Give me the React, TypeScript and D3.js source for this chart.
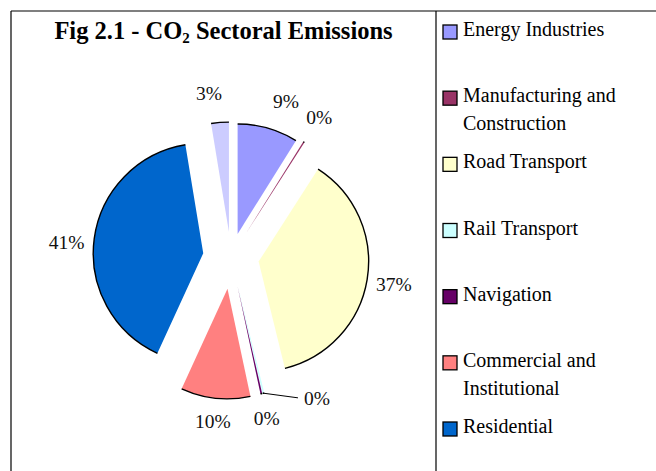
import React from "react";
import * as d3 from "d3";

const categories = [
  "Energy Industries",
  "Manufacturing and Construction",
  "Road Transport",
  "Rail Transport",
  "Navigation",
  "Commercial and Institutional",
  "Residential",
  "Other",
];
const values = [8.9, 0.2, 37.1, 0.25, 0.25, 10.2, 40.6, 2.6];
const colors = ["#9999FF", "#993366", "#FFFFCC", "#CCFFFF", "#660066", "#FF8080", "#0066CC", "#CCCCFF"];

// how far each slice is pulled out of the pie
const explode = [24, 26, 28, 30, 30, 32, 28, 25];

type Datum = { name: string; value: number; color: string; i: number };

const font = "'Liberation Serif', 'Times New Roman', serif";

export default function App() {
  const width = 656;
  const height = 471;
  const cx = 231;
  const cy = 257;
  const radius = 110;
  const labelRadius = 165;

  const data: Datum[] = categories.map((name, i) => ({ name, value: values[i], color: colors[i], i }));
  const total = d3.sum(values);
  const pct = d3.format(".0%");

  const slices = d3.pie<Datum>().sort(null).value(d => d.value)(data);
  const arcGen = d3.arc<d3.PieArcDatum<Datum>>().innerRadius(0).outerRadius(radius);

  const outline = (s: d3.PieArcDatum<Datum>) => {
    const p = d3.path();
    p.arc(0, 0, radius, s.startAngle - Math.PI / 2, s.endAngle - Math.PI / 2);
    return p.toString();
  };

  const mid = (s: d3.PieArcDatum<Datum>) => (s.startAngle + s.endAngle) / 2;

  // labels nudged round the pie (degrees); rail label has a leader line
  const labelNudge: Record<number, number> = { 0: 3.5, 3: -18, 6: -2.5, 7: -3 };
  const leaderFor = 3;

  const legendY = d3.scaleLinear().domain([0, 6]).range([25, 422]);
  const wrap = (name: string) => {
    const k = name.indexOf(" and ");
    return k < 0 ? [name] : [name.slice(0, k + 4), name.slice(k + 5)];
  };

  return (
    <svg
      width={width}
      height={height}
      style={{ position: "absolute", left: 0, top: 0, background: "#fff" }}
      fontFamily={font}
    >
      <rect width={width} height={height} fill="#fff" />
      <line x1={11} y1={11} x2={width} y2={11} stroke="#000" strokeWidth={1.2} />
      <line x1={11} y1={11} x2={11} y2={height} stroke="#000" strokeWidth={1.2} />
      <line x1={436} y1={11} x2={436} y2={height} stroke="#000" strokeWidth={1.2} />

      <text x={223.5} y={38.5} textAnchor="middle" fontWeight="bold" fontSize={24.5} fill="#000">
        Fig 2.1 - CO
        <tspan fontSize={15} dy={4}>2</tspan>
        <tspan dy={-4}> Sectoral Emissions</tspan>
      </text>

      <g transform={`translate(${cx},${cy})`}>
        {slices.map((s, i) => {
          const a = mid(s);
          const dx = Math.sin(a) * explode[i];
          const dy = -Math.cos(a) * explode[i];
          return (
            <g key={`slice${i}`} transform={`translate(${dx},${dy})`}>
              <path d={arcGen(s) || ""} fill={s.data.color} />
              <path d={outline(s)} fill="none" stroke="#000" strokeWidth={1.4} />
            </g>
          );
        })}
        {slices.map((s, i) => {
          const a = mid(s);
          const la = a + ((labelNudge[i] || 0) * Math.PI) / 180;
          const lx = Math.sin(la) * labelRadius;
          const ly = -Math.cos(la) * labelRadius;
          const label = pct(s.data.value / total);
          let leader = null;
          if (i === leaderFor) {
            const ex = Math.sin(a) * (explode[i] + radius);
            const ey = -Math.cos(a) * (explode[i] + radius);
            leader = (
              <polyline
                points={`${ex},${ey} ${lx - 19},${ly}`}
                fill="none"
                stroke="#000"
                strokeWidth={1}
              />
            );
          }
          return (
            <g key={`label${i}`}>
              {leader}
              <text x={lx} y={ly} dy="0.35em" textAnchor="middle" fontSize={19.5} fill="#111">
                {label}
              </text>
            </g>
          );
        })}
      </g>

      <g>
        {data
          .filter(d => legendY(d.i) < height - 20)
          .map(d => (
            <g key={`legend${d.i}`} transform={`translate(443,${legendY(d.i)})`}>
              <rect width={14} height={14} fill={d.color} stroke="#000" strokeWidth={1.3} />
              <text x={20} y={11} fontSize={20} fill="#000">
                {wrap(d.name).map((line, j) => (
                  <tspan key={j} x={20} dy={j === 0 ? 0 : 28}>
                    {line}
                  </tspan>
                ))}
              </text>
            </g>
          ))}
      </g>
    </svg>
  );
}
